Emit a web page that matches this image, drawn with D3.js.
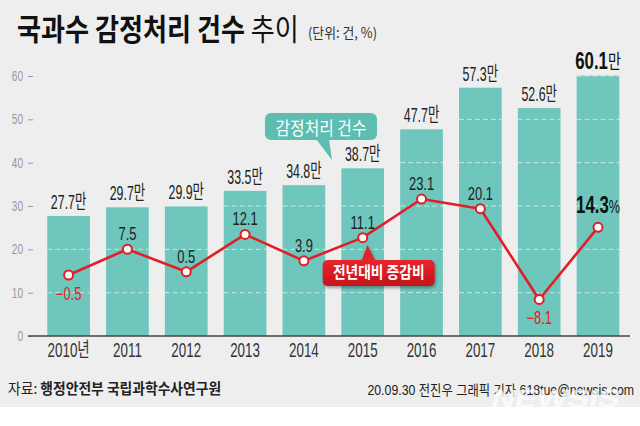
<!DOCTYPE html>
<html><head><meta charset="utf-8">
<script src="https://cdn.jsdelivr.net/npm/d3@7"></script>
<style>html,body{margin:0;padding:0;background:#fff;} svg{display:block;}</style>
</head><body>
<svg id="c" width="640" height="426"></svg>
<script>
// ---- data ----
const years = ["2010","2011","2012","2013","2014","2015","2016","2017","2018","2019"];
const yearLabels = ["2010년","2011","2012","2013","2014","2015","2016","2017","2018","2019"];
const cases = [27.7, 29.7, 29.9, 33.5, 34.8, 38.7, 47.7, 57.3, 52.6, 60.1];   // 만 건
const growth = [-0.5, 7.5, 0.5, 12.1, 3.9, 11.1, 23.1, 20.1, -8.1, 14.3];     // %
const yTicks = [0, 10, 20, 30, 40, 50, 60];
const titleBold = "국과수 감정처리 건수";
const titleRest = " 추이";
const unitText = "(단위: 건, %)";
const legendBars = "감정처리 건수";
const legendLine = "전년대비 증감비";
const sourceLabel = "자료: ";
const sourceText = "행정안전부 국립과학수사연구원";
const creditText = "20.09.30 전진우 그래픽 기자 618tue@newsis.com";

const FONT = "'Liberation Sans','Noto Sans CJK KR',sans-serif";
const KFONT = "'Noto Sans CJK KR','Liberation Sans',sans-serif";
const BAR = "#6fc6bc", TEAL = "#5dbdb1", RED = "#e01f26";

const svg = d3.select("#c");
const defs = svg.append("defs");
const g1 = defs.append("linearGradient").attr("id","rg").attr("x1",0).attr("y1",0).attr("x2",0).attr("y2",1);
g1.append("stop").attr("offset","0").attr("stop-color","#e8262c");
g1.append("stop").attr("offset","1").attr("stop-color","#c5121a");
const f = defs.append("filter").attr("id","sh").attr("x","-20%").attr("y","-30%").attr("width","140%").attr("height","170%");
f.append("feDropShadow").attr("dx",1).attr("dy",2).attr("stdDeviation",1.5).attr("flood-color","#000").attr("flood-opacity",0.35);

svg.append("rect").attr("x",0).attr("y",0).attr("width",640).attr("height",407).attr("fill","#eeeeee");

// scales
const x = d3.scaleBand().domain(years).range([39.2, 627.4]).paddingInner(0.274).paddingOuter(0.137);
const y = d3.scaleLinear().domain([0, 60]).range([336, 76]);
const y2 = d3.scaleLinear().domain([-10, 30]).range([305.6, 176.8]);
const bw = x.bandwidth();
const cx = d => x(d) + bw / 2;

function cond(sel, sx) {
  sel.each(function() {
    const s = d3.select(this);
    const tx = +s.attr("data-x"), ty = +s.attr("data-y");
    s.attr("transform", `translate(${tx},${ty}) scale(${sx},1)`);
  });
  return sel;
}

// title
const t = svg.append("text").attr("data-x",17).attr("data-y",40)
  .attr("font-family",KFONT).attr("font-size",30).attr("fill","#111");
t.append("tspan").attr("font-weight","bold").text(titleBold);
t.append("tspan").attr("font-weight","normal").text(titleRest);
cond(t, 0.87);
cond(svg.append("text").attr("data-x",308).attr("data-y",38).attr("font-family",KFONT)
  .attr("font-size",14).attr("fill","#333").text(unitText), 0.92);

// axis
const ax = svg.append("g").attr("transform","translate(33,0)")
  .call(d3.axisLeft(y).tickValues(yTicks).tickSize(5).tickPadding(5).tickFormat(d3.format("d")));
ax.select(".domain").remove();
ax.selectAll(".tick line").attr("stroke","#999").attr("stroke-width",1);
ax.selectAll(".tick text").attr("x",0).attr("fill","#999").attr("font-size",14)
  .attr("font-family",FONT).attr("transform","translate(-10,0) scale(0.72,1)");

// bars
svg.append("g").selectAll("rect").data(years).join("rect")
  .attr("x", d => x(d)).attr("width", bw)
  .attr("y", (d,i) => y(cases[i])).attr("height", (d,i) => y(0) - y(cases[i]))
  .attr("fill", BAR);

// dashed gridlines inside bars
const gl = [];
years.forEach((d,i) => yTicks.slice(1).forEach(tk => { if (tk <= cases[i] + 0.01) gl.push({d, tk}); }));
svg.append("g").selectAll("line").data(gl).join("line")
  .attr("x1", o => x(o.d)).attr("x2", o => x(o.d) + bw)
  .attr("y1", o => y(o.tk)).attr("y2", o => y(o.tk))
  .attr("stroke","#ffffff").attr("stroke-opacity",0.6).attr("stroke-width",1).attr("stroke-dasharray","5,3");

// baseline
svg.append("line").attr("x1",28).attr("x2",630).attr("y1",y(0)).attr("y2",y(0))
  .attr("stroke","#444").attr("stroke-width",1.5);

// year labels
cond(svg.append("g").selectAll("text").data(years).join("text")
  .attr("data-x", d => cx(d)).attr("data-y", 357)
  .attr("text-anchor","middle").attr("font-family",FONT).attr("font-size",20).attr("fill","#333")
  .text((d,i) => yearLabels[i]), 0.67);

// bar value labels
cond(svg.append("g").selectAll("text").data(years.slice(0,9)).join("text")
  .attr("data-x", d => cx(d)).attr("data-y", (d,i) => y(cases[i]) - 7)
  .attr("text-anchor","middle").attr("font-family",FONT).attr("font-size",20).attr("fill","#222")
  .text((d,i) => cases[i].toFixed(1) + "만"), 0.62);
const last = svg.append("text").attr("data-x", cx(years[9])).attr("data-y", y(cases[9]) - 7)
  .attr("text-anchor","middle").attr("font-family",FONT).attr("fill","#111");
last.append("tspan").attr("font-weight","bold").attr("font-size",24).text(cases[9].toFixed(1));
last.append("tspan").attr("font-size",20).text("만");
cond(last, 0.7);

// line
const line = d3.line().x((d,i) => cx(years[i])).y(d => y2(d));
svg.append("path").attr("d", line(growth)).attr("fill","none").attr("stroke",RED)
  .attr("stroke-width",2.6).attr("stroke-linejoin","round");
svg.append("g").selectAll("circle").data(growth).join("circle")
  .attr("cx", (d,i) => cx(years[i])).attr("cy", d => y2(d)).attr("r",4.5)
  .attr("fill","#fff").attr("stroke",RED).attr("stroke-width",2);

// line labels
cond(svg.append("g").selectAll("text").data(growth.slice(0,9)).join("text")
  .attr("data-x", (d,i) => cx(years[i])).attr("data-y", d => d < 0 ? y2(d) + 25 : y2(d) - 9)
  .attr("text-anchor","middle").attr("font-family",FONT).attr("font-size",18)
  .attr("fill", d => d < 0 ? RED : "#222")
  .text(d => (d < 0 ? "\u2212" + Math.abs(d).toFixed(1) : d.toFixed(1))), 0.72);
const lastG = svg.append("text").attr("data-x", cx(years[9])).attr("data-y", y2(growth[9]) - 14)
  .attr("text-anchor","middle").attr("font-family",FONT).attr("fill","#111");
lastG.append("tspan").attr("font-weight","bold").attr("font-size",24).text(growth[9].toFixed(1));
lastG.append("tspan").attr("font-size",18).text("%");
cond(lastG, 0.7);

// teal callout
const tc = svg.append("g");
tc.append("path").attr("d","M316,139 L329,139 L332,160 Z").attr("fill",TEAL);
tc.append("rect").attr("x",265).attr("y",113).attr("width",112).attr("height",27).attr("rx",6).attr("fill",TEAL);
cond(tc.append("text").attr("data-x",321).attr("data-y",134.5).attr("text-anchor","middle")
  .attr("font-family",KFONT).attr("font-size",18).attr("fill","#fff").text(legendBars), 0.88);

// red callout
const rc = svg.append("g").attr("filter","url(#sh)");
rc.append("path").attr("d","M361,262 L376,262 L367.5,245 Z").attr("fill","#e3242a");
rc.append("rect").attr("x",322.7).attr("y",260).attr("width",112).attr("height",26).attr("rx",5).attr("fill","url(#rg)");
cond(svg.append("text").attr("data-x",378.7).attr("data-y",278).attr("text-anchor","middle")
  .attr("font-family",KFONT).attr("font-weight","bold").attr("font-size",16).attr("fill","#fff").text(legendLine), 0.86);

// source & credit
const src = svg.append("text").attr("data-x",8).attr("data-y",394).attr("font-family",KFONT)
  .attr("font-size",15).attr("fill","#222");
src.append("tspan").text(sourceLabel);
src.append("tspan").attr("font-weight","bold").text(sourceText);
cond(src, 0.92);
cond(svg.append("text").attr("data-x",634).attr("data-y",395).attr("text-anchor","end")
  .attr("font-family",FONT).attr("font-size",14).attr("fill","#222").text(creditText), 0.88);

// watermark (semi-transparent, over the credit line)
svg.append("text").attr("transform","translate(490,407) skewX(-14) scale(1.3,1)")
  .attr("font-family",FONT).attr("font-weight","bold").attr("font-size",25)
  .attr("fill","#ffffff").attr("fill-opacity",0.75).text("NEWSIS");
</script>
</body></html>
